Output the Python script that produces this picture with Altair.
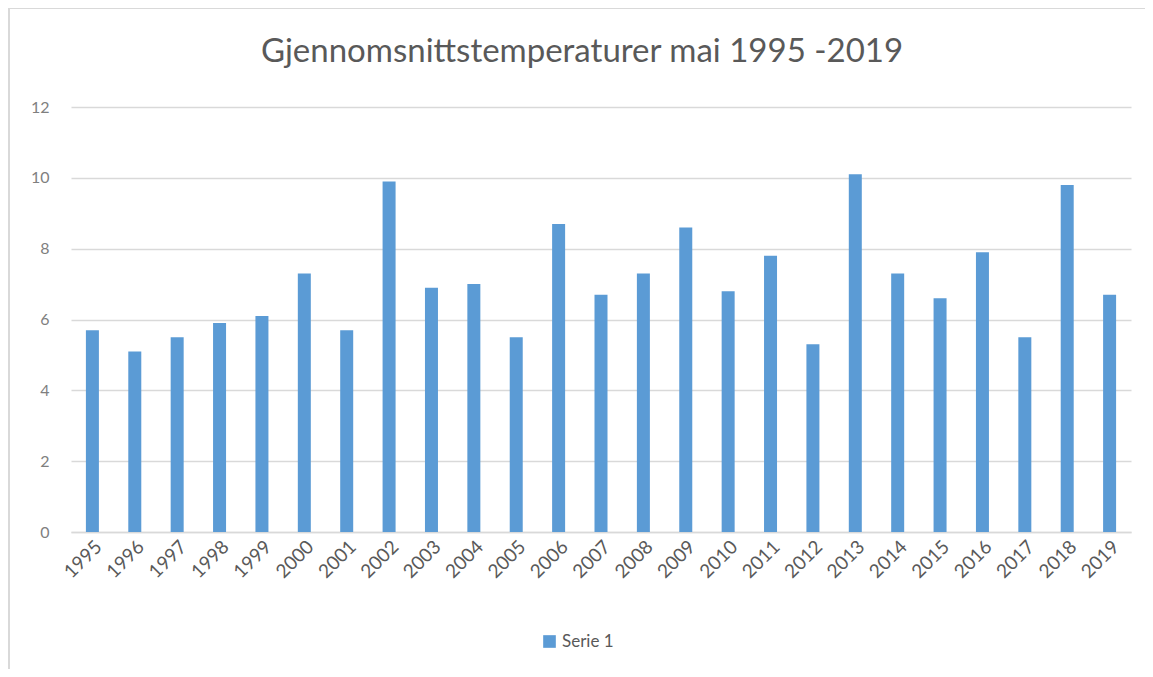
import altair as alt
import pandas as pd

years = [str(y) for y in range(1995, 2020)]
temps = [5.7, 5.1, 5.5, 5.9, 6.1, 7.3, 5.7, 9.9, 6.9, 7.0, 5.5, 8.7, 6.7, 7.3, 8.6,
         6.8, 7.8, 5.3, 10.1, 7.3, 6.6, 7.9, 5.5, 9.8, 6.7]
series = ["Serie 1"] * len(years)
title_text = "Gjennomsnittstemperaturer mai 1995 -2019"

df = pd.DataFrame({"År": years, "Temperatur": temps, "Serie": series})

FONT = "Lato"
GRAY = "#595959"

bars = alt.Chart(df).mark_bar(size=13).encode(
    x=alt.X("År:N", sort=years, title=None,
            scale=alt.Scale(paddingInner=0.69, paddingOuter=0.35),
            axis=alt.Axis(labelAngle=-45, labelAlign="right", labelBaseline="top",
                          labelFontSize=19, labelColor=GRAY, labelFont=FONT,
                          ticks=False, domainColor="#D9D9D9", domainWidth=1.5,
                          labelPadding=5, labelOffset=0)),
    y=alt.Y("Temperatur:Q", title=None,
            scale=alt.Scale(domain=[0, 12]),
            axis=alt.Axis(values=[0, 2, 4, 6, 8, 10, 12], labelFontSize=16,
                          labelColor="#7F7F7F", labelFont=FONT, ticks=False, domain=False,
                          gridColor="#D9D9D9", gridWidth=1.3, labelPadding=22)),
    color=alt.Color("Serie:N", scale=alt.Scale(domain=["Serie 1"], range=["#5B9BD5"]),
                    legend=alt.Legend(title=None, orient="none", legendX=470, legendY=526,
                                      symbolType="square", symbolSize=160,
                                      symbolStrokeWidth=0, labelFontSize=17,
                                      labelColor=GRAY, labelFont=FONT)),
)

border = alt.Chart(df).mark_rect(fill=None, stroke="#D9D9D9", strokeWidth=1.5).encode(
    x=alt.value(-62), x2=alt.value(1080), y=alt.value(-99), y2=alt.value(565)
)

title = alt.Chart(pd.DataFrame({"t": [title_text]})).mark_text(
    font=FONT, fontSize=33, color=GRAY, align="center", baseline="middle"
).encode(text="t:N", x=alt.value(511), y=alt.value(-55))

chart = alt.layer(border, bars, title).properties(
    width=1060, height=425,
    autosize=alt.AutoSizeParams(type="none"),
    padding={"left": 63, "top": 99, "right": 14, "bottom": 137},
).configure(background="white").configure_view(stroke=None)

chart.save("out.html", embed_options={"renderer": "svg", "actions": False})
